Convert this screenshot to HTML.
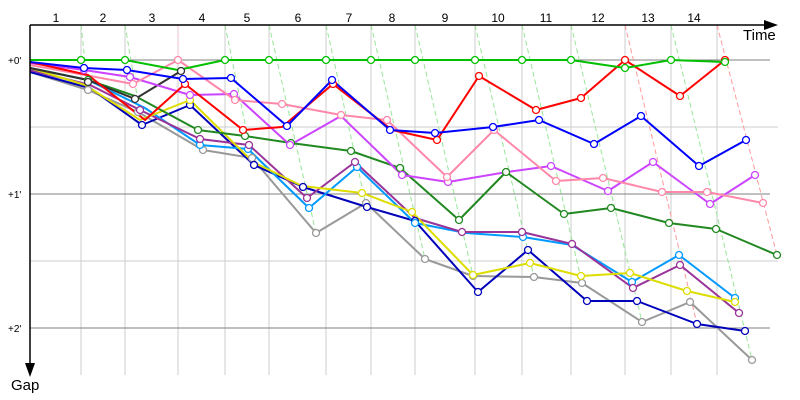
<!DOCTYPE html>
<html><head><style>body{margin:0;background:#fff}svg{display:block}</style></head>
<body>
<svg width="800" height="400" xmlns="http://www.w3.org/2000/svg" font-family="Liberation Sans, sans-serif">
<g stroke="#cccccc" stroke-width="1">
<line x1="30" y1="127" x2="778" y2="127"/><line x1="30" y1="261" x2="778" y2="261"/>
<line x1="81" y1="25" x2="81" y2="375"/><line x1="125" y1="25" x2="125" y2="375"/><line x1="178" y1="25" x2="178" y2="375"/><line x1="225" y1="25" x2="225" y2="375"/><line x1="269" y1="25" x2="269" y2="375"/><line x1="326" y1="25" x2="326" y2="375"/><line x1="371" y1="25" x2="371" y2="375"/><line x1="415" y1="25" x2="415" y2="375"/><line x1="475" y1="25" x2="475" y2="375"/><line x1="522" y1="25" x2="522" y2="375"/><line x1="571" y1="25" x2="571" y2="375"/><line x1="625" y1="25" x2="625" y2="375"/><line x1="671" y1="25" x2="671" y2="375"/><line x1="717" y1="25" x2="717" y2="375"/>
</g>
<g stroke="#808080" stroke-width="1">
<line x1="30" y1="60" x2="770" y2="60"/><line x1="30" y1="194" x2="770" y2="194"/><line x1="30" y1="328" x2="770" y2="328"/>
</g>
<g stroke="#99e699" stroke-width="1" stroke-dasharray="5,3" fill="none">
<line x1="81" y1="25" x2="88" y2="90"/><line x1="125" y1="25" x2="142" y2="125"/><line x1="225" y1="25" x2="252" y2="158"/><line x1="269" y1="25" x2="316" y2="233"/><line x1="326" y1="25" x2="366" y2="205"/><line x1="371" y1="25" x2="425" y2="259"/><line x1="415" y1="25" x2="473" y2="276"/><line x1="475" y1="25" x2="534" y2="277"/><line x1="522" y1="25" x2="582" y2="283"/><line x1="571" y1="25" x2="642" y2="322"/><line x1="671" y1="25" x2="752" y2="360"/>
</g>
<g stroke="#ff9999" stroke-width="1" stroke-dasharray="5,3" fill="none">
<line x1="625" y1="25" x2="697" y2="324"/><line x1="717" y1="25" x2="777" y2="255"/><line x1="178" y1="25" x2="178" y2="60" stroke="#ffbbcc"/>
</g>
<g fill="none" stroke-width="2" stroke-linejoin="round">
<polyline stroke="#999999" points="30,72 88,90 138,112 203,150 252,158 316,233 366,203 425,259 473,276 534,277 582,283 642,322 690,302 752,360"/>
<polyline stroke="#0000bb" points="30,72 90,88 142,125 190,105 254,165 303,187 367,207 415,221 478,292 528,250 587,301 637,301 697,324 745,331"/>
<polyline stroke="#0099ff" points="30,68 88,80 145,108 200,145 248,149 309,208 357,167 415,223 466,233 523,237 572,245 632,282 679,255 735,298"/>
<polyline stroke="#993399" points="30,70 90,85 140,110 200,139 249,145 307,198 355,162 415,218 462,232 522,232 572,244 633,288 680,265 739,313"/>
<polyline stroke="#dddd00" points="30,68 85,85 140,120 190,100 253,162 302,186 362,193 412,212 473,275 530,263 581,276 630,273 687,291 735,302"/>
<polyline stroke="#228822" points="30,68 88,80 135,96 198,130 245,136 291,143 351,151 400,168 459,220 506,172 564,214 611,208 669,223 716,229 777,255"/>
<polyline stroke="#333333" points="30,68 88,80 135,99 181,71"/>
<polyline stroke="#cc44ff" points="30,63 84,70 130,77 190,95 234,94 290,145 341,116 402,175 448,182 507,172 551,166 608,191 653,162 710,204 755,175"/>
<polyline stroke="#ff88aa" points="30,65 85,75 133,84 178,60 235,100 282,104 341,115 387,120 447,177 494,130 556,181 603,178 662,192 707,192 763,203"/>
<polyline stroke="#ff0000" points="30,62 88,75 145,120 185,84 243,130 282,127 333,84 392,130 437,140 479,76 536,110 581,98 625,60 680,96 725,60"/>
<polyline stroke="#0000ff" points="30,62 84,68 127,70 183,79 231,78 287,126 332,80 390,130 435,133 493,127 539,120 594,144 641,116 699,166 746,140"/>
<polyline stroke="#00c000" points="30,60 81,60 125,60 178,70 225,60 269,60 326,60 371,60 415,60 475,60 522,60 571,60 625,68 671,60 725,62"/>
</g>
<g fill="#fff" stroke-width="1.3">
<g stroke="#999999"><circle cx="88" cy="90" r="3.5"/><circle cx="138" cy="112" r="3.5"/><circle cx="203" cy="150" r="3.5"/><circle cx="252" cy="158" r="3.5"/><circle cx="316" cy="233" r="3.5"/><circle cx="366" cy="203" r="3.5"/><circle cx="425" cy="259" r="3.5"/><circle cx="473" cy="276" r="3.5"/><circle cx="534" cy="277" r="3.5"/><circle cx="582" cy="283" r="3.5"/><circle cx="642" cy="322" r="3.5"/><circle cx="690" cy="302" r="3.5"/><circle cx="752" cy="360" r="3.5"/></g>
<g stroke="#0000bb"><circle cx="142" cy="125" r="3.5"/><circle cx="190" cy="105" r="3.5"/><circle cx="254" cy="165" r="3.5"/><circle cx="303" cy="187" r="3.5"/><circle cx="367" cy="207" r="3.5"/><circle cx="415" cy="221" r="3.5"/><circle cx="478" cy="292" r="3.5"/><circle cx="528" cy="250" r="3.5"/><circle cx="587" cy="301" r="3.5"/><circle cx="637" cy="301" r="3.5"/><circle cx="697" cy="324" r="3.5"/><circle cx="745" cy="331" r="3.5"/></g>
<g stroke="#0099ff"><circle cx="200" cy="145" r="3.5"/><circle cx="248" cy="149" r="3.5"/><circle cx="309" cy="208" r="3.5"/><circle cx="357" cy="167" r="3.5"/><circle cx="415" cy="223" r="3.5"/><circle cx="523" cy="237" r="3.5"/><circle cx="632" cy="282" r="3.5"/><circle cx="679" cy="255" r="3.5"/><circle cx="735" cy="298" r="3.5"/></g>
<g stroke="#993399"><circle cx="140" cy="110" r="3.5"/><circle cx="200" cy="139" r="3.5"/><circle cx="249" cy="145" r="3.5"/><circle cx="307" cy="198" r="3.5"/><circle cx="355" cy="162" r="3.5"/><circle cx="462" cy="232" r="3.5"/><circle cx="522" cy="232" r="3.5"/><circle cx="572" cy="244" r="3.5"/><circle cx="633" cy="288" r="3.5"/><circle cx="680" cy="265" r="3.5"/><circle cx="739" cy="313" r="3.5"/></g>
<g stroke="#dddd00"><circle cx="190" cy="100" r="3.5"/><circle cx="362" cy="193" r="3.5"/><circle cx="412" cy="212" r="3.5"/><circle cx="473" cy="275" r="3.5"/><circle cx="530" cy="263" r="3.5"/><circle cx="581" cy="276" r="3.5"/><circle cx="630" cy="273" r="3.5"/><circle cx="687" cy="291" r="3.5"/><circle cx="735" cy="302" r="3.5"/></g>
<g stroke="#228822"><circle cx="88" cy="80" r="3.5"/><circle cx="198" cy="130" r="3.5"/><circle cx="245" cy="136" r="3.5"/><circle cx="291" cy="143" r="3.5"/><circle cx="351" cy="151" r="3.5"/><circle cx="400" cy="168" r="3.5"/><circle cx="459" cy="220" r="3.5"/><circle cx="506" cy="172" r="3.5"/><circle cx="564" cy="214" r="3.5"/><circle cx="611" cy="208" r="3.5"/><circle cx="669" cy="223" r="3.5"/><circle cx="716" cy="229" r="3.5"/><circle cx="777" cy="255" r="3.5"/></g>
<g stroke="#333333"><circle cx="88" cy="82" r="3.5"/><circle cx="135" cy="99" r="3.5"/><circle cx="181" cy="71" r="3.5"/></g>
<g stroke="#cc44ff"><circle cx="84" cy="70" r="3.5"/><circle cx="130" cy="77" r="3.5"/><circle cx="190" cy="95" r="3.5"/><circle cx="234" cy="94" r="3.5"/><circle cx="290" cy="145" r="3.5"/><circle cx="402" cy="175" r="3.5"/><circle cx="448" cy="182" r="3.5"/><circle cx="551" cy="166" r="3.5"/><circle cx="608" cy="191" r="3.5"/><circle cx="653" cy="162" r="3.5"/><circle cx="710" cy="204" r="3.5"/><circle cx="755" cy="175" r="3.5"/></g>
<g stroke="#ff88aa"><circle cx="133" cy="84" r="3.5"/><circle cx="178" cy="60" r="3.5"/><circle cx="235" cy="100" r="3.5"/><circle cx="282" cy="104" r="3.5"/><circle cx="341" cy="115" r="3.5"/><circle cx="387" cy="120" r="3.5"/><circle cx="447" cy="177" r="3.5"/><circle cx="494" cy="130" r="3.5"/><circle cx="556" cy="181" r="3.5"/><circle cx="603" cy="178" r="3.5"/><circle cx="662" cy="192" r="3.5"/><circle cx="707" cy="192" r="3.5"/><circle cx="763" cy="203" r="3.5"/></g>
<g stroke="#ff0000"><circle cx="185" cy="84" r="3.5"/><circle cx="243" cy="130" r="3.5"/><circle cx="333" cy="84" r="3.5"/><circle cx="437" cy="140" r="3.5"/><circle cx="479" cy="76" r="3.5"/><circle cx="536" cy="110" r="3.5"/><circle cx="581" cy="98" r="3.5"/><circle cx="625" cy="60" r="3.5"/><circle cx="680" cy="96" r="3.5"/><circle cx="725" cy="60" r="3.5"/></g>
<g stroke="#0000ff"><circle cx="84" cy="68" r="3.5"/><circle cx="127" cy="70" r="3.5"/><circle cx="183" cy="79" r="3.5"/><circle cx="231" cy="78" r="3.5"/><circle cx="287" cy="126" r="3.5"/><circle cx="332" cy="80" r="3.5"/><circle cx="390" cy="130" r="3.5"/><circle cx="435" cy="133" r="3.5"/><circle cx="493" cy="127" r="3.5"/><circle cx="539" cy="120" r="3.5"/><circle cx="594" cy="144" r="3.5"/><circle cx="641" cy="116" r="3.5"/><circle cx="699" cy="166" r="3.5"/><circle cx="746" cy="140" r="3.5"/></g>
<g stroke="#00c000"><circle cx="81" cy="60" r="3.5"/><circle cx="125" cy="60" r="3.5"/><circle cx="225" cy="60" r="3.5"/><circle cx="269" cy="60" r="3.5"/><circle cx="326" cy="60" r="3.5"/><circle cx="371" cy="60" r="3.5"/><circle cx="415" cy="60" r="3.5"/><circle cx="475" cy="60" r="3.5"/><circle cx="522" cy="60" r="3.5"/><circle cx="571" cy="60" r="3.5"/><circle cx="625" cy="68" r="3.5"/><circle cx="671" cy="60" r="3.5"/><circle cx="725" cy="62" r="3.5"/></g>
</g>
<g stroke="#000" stroke-width="1.5">
<line x1="30" y1="25" x2="770" y2="25"/><line x1="30" y1="25" x2="30" y2="365"/>
</g>
<polygon points="778,25 764,20 764,30" fill="#000"/>
<polygon points="30,377 25,363 35,363" fill="#000"/>
<g font-size="12" text-anchor="middle" fill="#000">
<text x="56" y="22">1</text><text x="103" y="22">2</text><text x="152" y="22">3</text><text x="202" y="22">4</text><text x="247" y="22">5</text><text x="298" y="22">6</text><text x="349" y="22">7</text><text x="392" y="22">8</text><text x="445" y="22">9</text><text x="498" y="22">10</text><text x="546" y="22">11</text><text x="598" y="22">12</text><text x="648" y="22">13</text><text x="694" y="22">14</text>
</g>
<g font-size="10" fill="#000">
<text x="8" y="64">+0'</text><text x="8" y="198">+1'</text><text x="8" y="332">+2'</text>
</g>
<text x="743" y="40" font-size="15">Time</text>
<text x="11" y="390" font-size="15">Gap</text>
</svg>
</body></html>
